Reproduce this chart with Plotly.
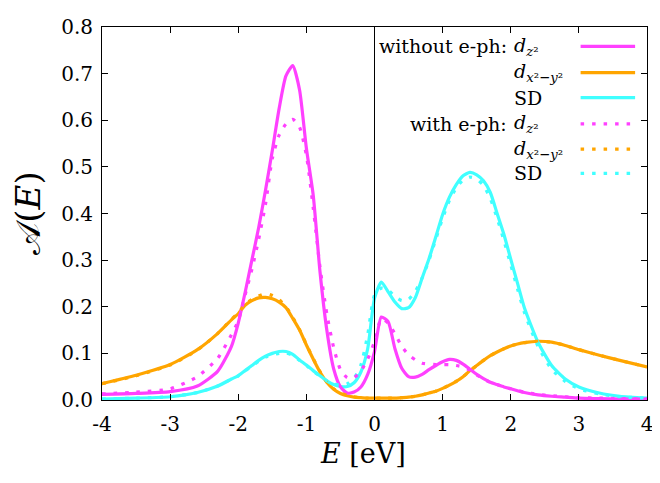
import plotly.graph_objects as go

# Energy grid (eV)
energy = [-4.0, -3.5, -3.0, -2.6, -2.3, -2.1, -2.0, -1.9, -1.8, -1.7, -1.6, -1.5, -1.4, -1.3,
          -1.2, -1.1, -1.0, -0.9, -0.8, -0.7, -0.6, -0.5, -0.4, -0.3, -0.2, -0.1, 0.0, 0.1,
          0.2, 0.3, 0.4, 0.5, 0.6, 0.7, 0.8, 0.9, 1.0, 1.1, 1.2, 1.3, 1.4, 1.5, 1.6, 1.7,
          1.8, 1.9, 2.0, 2.1, 2.2, 2.4, 2.6, 2.8, 3.0, 3.3, 3.6, 4.0]

# without e-ph
dz2_noep = [0.012, 0.014, 0.018, 0.030, 0.062, 0.115, 0.165, 0.230, 0.300, 0.370, 0.450, 0.535, 0.625, 0.695,
            0.717, 0.665, 0.540, 0.440, 0.275, 0.150, 0.067, 0.028, 0.015, 0.017, 0.028, 0.055, 0.104, 0.178,
            0.168, 0.110, 0.068, 0.050, 0.049, 0.055, 0.065, 0.074, 0.082, 0.087, 0.085, 0.077, 0.066, 0.055, 0.046, 0.038,
            0.033, 0.028, 0.024, 0.020, 0.016, 0.011, 0.008, 0.006, 0.004, 0.003, 0.002, 0.002]
dx2_noep = [0.035, 0.053, 0.076, 0.108, 0.143, 0.172, 0.185, 0.203, 0.213, 0.219, 0.220, 0.217, 0.210, 0.198,
            0.175, 0.150, 0.118, 0.088, 0.060, 0.038, 0.023, 0.014, 0.009, 0.006, 0.005, 0.004, 0.004, 0.004,
            0.004, 0.004, 0.005, 0.006, 0.008, 0.011, 0.015, 0.019, 0.025, 0.032, 0.040, 0.050, 0.063, 0.074, 0.085, 0.095,
            0.103, 0.110, 0.116, 0.120, 0.123, 0.126, 0.124, 0.117, 0.108, 0.096, 0.085, 0.071]
sd_noep = [0.002, 0.004, 0.007, 0.016, 0.030, 0.045, 0.052, 0.063, 0.074, 0.085, 0.094, 0.100, 0.104, 0.104,
           0.098, 0.086, 0.075, 0.063, 0.052, 0.041, 0.033, 0.029, 0.029, 0.037, 0.060, 0.110, 0.218, 0.253,
           0.232, 0.210, 0.196, 0.198, 0.220, 0.262, 0.303, 0.350, 0.398, 0.435, 0.462, 0.481, 0.488, 0.483, 0.470, 0.445,
           0.400, 0.355, 0.302, 0.250, 0.198, 0.124, 0.074, 0.045, 0.028, 0.015, 0.008, 0.004]

# with e-ph
dz2_ep = [0.013, 0.017, 0.024, 0.050, 0.090, 0.140, 0.170, 0.225, 0.280, 0.345, 0.420, 0.518, 0.568, 0.592,
          0.602, 0.585, 0.525, 0.413, 0.285, 0.185, 0.113, 0.065, 0.048, 0.048, 0.062, 0.088, 0.125, 0.174,
          0.165, 0.142, 0.115, 0.097, 0.086, 0.079, 0.077, 0.076, 0.076, 0.076, 0.074, 0.071, 0.064, 0.054, 0.045, 0.038,
          0.033, 0.028, 0.024, 0.020, 0.017, 0.012, 0.009, 0.007, 0.005, 0.004, 0.003, 0.002]
dx2_ep = [0.035, 0.052, 0.075, 0.107, 0.143, 0.173, 0.187, 0.205, 0.216, 0.223, 0.228, 0.224, 0.215, 0.200,
          0.177, 0.151, 0.119, 0.089, 0.061, 0.039, 0.024, 0.015, 0.010, 0.007, 0.005, 0.004, 0.004, 0.004,
          0.004, 0.004, 0.005, 0.006, 0.008, 0.011, 0.015, 0.019, 0.025, 0.032, 0.040, 0.050, 0.062, 0.074, 0.085, 0.095,
          0.103, 0.110, 0.116, 0.120, 0.123, 0.126, 0.124, 0.117, 0.108, 0.096, 0.085, 0.071]
sd_ep = [0.002, 0.004, 0.007, 0.016, 0.030, 0.045, 0.052, 0.062, 0.073, 0.083, 0.092, 0.097, 0.100, 0.101,
         0.096, 0.085, 0.074, 0.062, 0.051, 0.041, 0.034, 0.032, 0.035, 0.047, 0.075, 0.140, 0.225, 0.240,
         0.236, 0.222, 0.213, 0.216, 0.233, 0.262, 0.300, 0.345, 0.390, 0.428, 0.455, 0.472, 0.478, 0.474, 0.460, 0.432,
         0.390, 0.342, 0.290, 0.238, 0.188, 0.115, 0.066, 0.040, 0.024, 0.013, 0.007, 0.004]

x_ticks = [-4, -3, -2, -1, 0, 1, 2, 3, 4]
x_ticklabels = ["-4", "-3", "-2", "-1", "0", "1", "2", "3", "4"]
y_ticks = [0.0, 0.1, 0.2, 0.3, 0.4, 0.5, 0.6, 0.7, 0.8]
y_ticklabels = ["0.0", "0.1", "0.2", "0.3", "0.4", "0.5", "0.6", "0.7", "0.8"]

MAGENTA = "#ff40ff"
ORANGE = "#ffa500"
CYAN = "#40ffff"
FONT = "DejaVu Serif"
DOT = "3.5px,8px"

series = [
    (dx2_noep, ORANGE, "solid"),
    (sd_noep, CYAN, "solid"),
    (dz2_noep, MAGENTA, "solid"),
    (dx2_ep, ORANGE, DOT),
    (sd_ep, CYAN, DOT),
    (dz2_ep, MAGENTA, DOT),
]

fig = go.Figure()
for vals, col, dash in series:
    fig.add_trace(go.Scatter(x=energy, y=vals, mode="lines",
                             line=dict(color=col, width=3.2, dash=dash, shape="spline", smoothing=0.6),
                             showlegend=False, hoverinfo="skip"))

fig.add_vline(x=0, line=dict(color="black", width=1))

# page body has an 8px margin, so figure coordinates = screen - 8
OFF = 8
W, H = 660 - OFF, 483 - OFF
L, R, T, B = 102 - OFF, 652 - OFF, 15 - OFF, 400 - OFF
def px(xs):
    return (xs - OFF - L) / (R - L)
def py(ys):
    return (B - (ys - OFF)) / (B - T)

rows = [
    ("without e-ph:", "<i>d</i><sub><i>z</i>²</sub>", MAGENTA, "solid", 35),
    ("", "<i>d</i><sub><i>x</i>²−<i>y</i>²</sub>", ORANGE, "solid", 62),
    ("", "SD", CYAN, "solid", 88),
    ("with e-ph:", "<i>d</i><sub><i>z</i>²</sub>", MAGENTA, DOT, 115),
    ("", "<i>d</i><sub><i>x</i>²−<i>y</i>²</sub>", ORANGE, DOT, 141),
    ("", "SD", CYAN, DOT, 166),
]
for prefix, label, col, dash, yy in rows:
    if prefix:
        fig.add_annotation(x=px(513), y=py(yy), xref="paper", yref="paper", text=prefix,
                           showarrow=False, xanchor="right", yanchor="middle",
                           font=dict(family=FONT, size=19, color="black"))
    fig.add_annotation(x=px(516), y=py(yy), xref="paper", yref="paper", text=label,
                       showarrow=False, xanchor="left", yanchor="middle",
                       font=dict(family=FONT, size=19, color="black"))
    fig.add_shape(type="line", xref="paper", yref="paper", x0=px(585), x1=px(640),
                  y0=py(yy), y1=py(yy), line=dict(color=col, width=3.2, dash=dash))

fig.add_annotation(x=px(27), y=py(207), xref="paper", yref="paper",
                   text="𝒜(<i>E</i>)", textangle=-90, showarrow=False,
                   xanchor="center", yanchor="middle",
                   font=dict(family=FONT, size=34, color="black"))
fig.add_annotation(x=px(365), y=py(455), xref="paper", yref="paper",
                   text="<i>E</i> [eV]", showarrow=False,
                   xanchor="center", yanchor="middle",
                   font=dict(family=FONT, size=27, color="black"))

axis_common = dict(showgrid=False, zeroline=False, showline=True, linecolor="black", linewidth=1,
                   ticks="inside", ticklen=6, tickwidth=1, tickcolor="black", mirror="ticks",
                   ticklabeloverflow="allow",
                   tickfont=dict(family=FONT, size=20, color="black"))
fig.update_xaxes(range=[-4, 4], tickvals=x_ticks, ticktext=x_ticklabels, ticklabelstandoff=6, **axis_common)
fig.update_yaxes(range=[0, 0.8], tickvals=y_ticks, ticktext=y_ticklabels, ticklabelstandoff=4, **axis_common)

fig.update_layout(width=W, height=H, margin=dict(l=L, r=W - R, t=T, b=H - B),
                  plot_bgcolor="white", paper_bgcolor="white",
                  font=dict(family=FONT, color="black"))

fig.write_html("out.html")
